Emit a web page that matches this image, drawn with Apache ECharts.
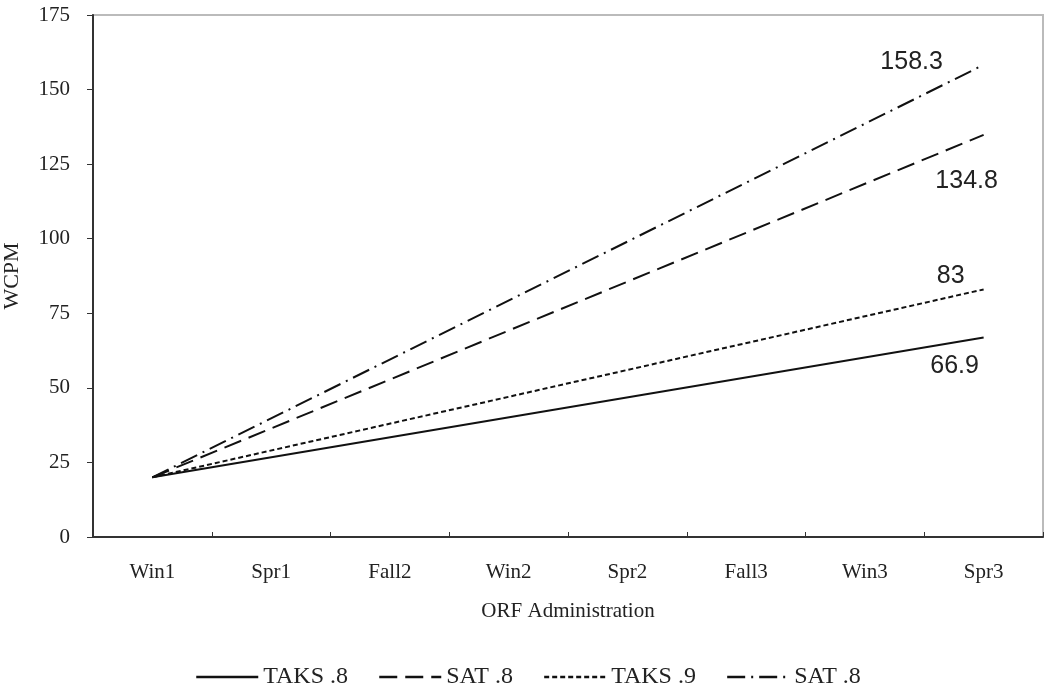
<!DOCTYPE html>
<html><head><meta charset="utf-8">
<script src="https://cdn.jsdelivr.net/npm/echarts@6/dist/echarts.min.js"></script>
<style>html,body{margin:0;padding:0;background:#fff}#c{width:1050px;height:690px}</style>
</head><body><div id="c"></div>
<script>
const categories = ['Win1','Spr1','Fall2','Win2','Spr2','Fall3','Win3','Spr3'];
const yTicks = {min:0, max:175, interval:25};
const seriesNames = ['TAKS .8','SAT .8','TAKS .9','SAT .8 '];
// start value at Win1 and end value at Spr3 (straight projections)
const taks8 = [20, null, null, null, null, null, null, 66.9];
const sat8a = [20, null, null, null, null, null, null, 134.8];
const taks9 = [20, null, null, null, null, null, null, 83];
const sat8b = [20, null, null, null, null, null, null, 158.3];
const endLabels = ['66.9','134.8','83','158.3'];

const serif = '"Liberation Serif", "Times New Roman", serif';
const sans = '"Liberation Sans", Arial, sans-serif';
const dashes = ['solid',[18,8],[5,3],[18,6,2,6]];
const labelOffsets = [[-29,29],[-17,46],[-33,-13],[-72,-3]];
const datasets = [taks8, sat8a, taks9, sat8b];

function mk(i){
  return {name:seriesNames[i], type:'line', data:datasets[i], connectNulls:true, symbol:'none', silent:true,
    lineStyle:{color:'#111', width:2, type:dashes[i]}, itemStyle:{color:'#111'}, z:3,
    endLabel:{show:true, formatter:endLabels[i], distance:0, align:'center', verticalAlign:'middle',
      offset:labelOffsets[i], fontFamily:sans, fontSize:25, color:'#222'}};
}

const chart = echarts.init(document.getElementById('c'), null, {renderer:'canvas'});
chart.setOption({
  animation:false,
  backgroundColor:'#fff',
  grid:{left:93, right:7, top:15, bottom:153, show:true, borderColor:'#bbb', borderWidth:2, outerBoundsMode:'none', containLabel:false},
  xAxis:{type:'category', data:categories, boundaryGap:true,
    name:'ORF Administration', nameLocation:'middle', nameGap:64,
    nameTextStyle:{fontFamily:serif, fontSize:21, color:'#222'},
    axisLine:{lineStyle:{color:'#333', width:2}},
    axisTick:{show:true, inside:true, length:5, lineStyle:{color:'#333'}},
    axisLabel:{fontFamily:serif, fontSize:21, color:'#222', margin:25}},
  yAxis:{type:'value', min:yTicks.min, max:yTicks.max, interval:yTicks.interval,
    name:'WCPM', nameLocation:'middle', nameGap:70,
    nameTextStyle:{fontFamily:serif, fontSize:22, color:'#222'},
    axisLine:{show:true, lineStyle:{color:'#333', width:2}},
    axisTick:{show:true, length:6, lineStyle:{color:'#333'}},
    splitLine:{show:false},
    axisLabel:{fontFamily:serif, fontSize:21, color:'#222', margin:23}},
  legend:{top:660, left:190, itemWidth:62, itemHeight:24, itemGap:30,
    itemStyle:{opacity:0, borderWidth:0},
    lineStyle:{width:2.5},
    textStyle:{fontFamily:serif, fontSize:24, color:'#222'},
    data:seriesNames},
  series:[0,1,2,3].map(mk)
});
</script></body></html>
